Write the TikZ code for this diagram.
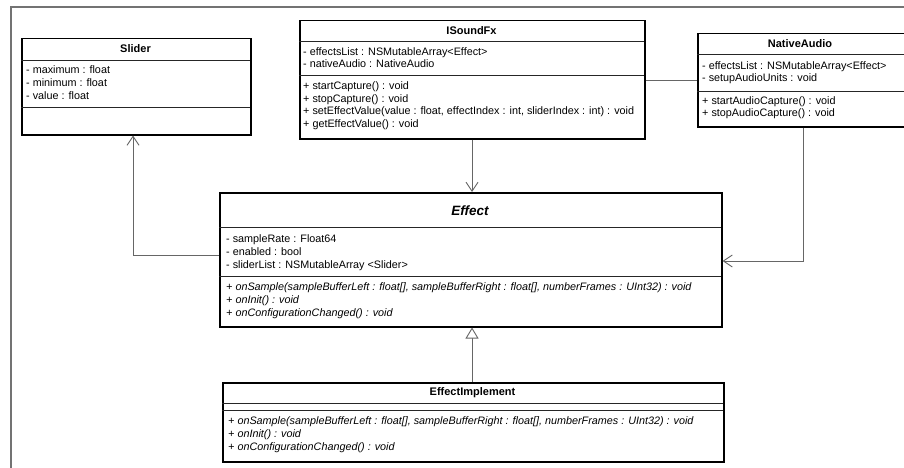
\documentclass[tikz,border=0pt]{standalone}
\usepackage{fontspec}
\setmainfont{Liberation Sans}
\usetikzlibrary{arrows.meta}

\tikzset{
  classbox/.style={draw=black, line width=1.5pt, fill=white, inner sep=0pt, anchor=north west},
  sepline/.style={draw=black!85, line width=0.8pt},
  member/.style={anchor=west, inner sep=0pt, text height=8pt, text depth=2.5pt,
    font=\fontsize{10.8}{12}\selectfont},
  opmember/.style={member, font=\fontsize{10.8}{12}\selectfont\itshape},
  title/.style={inner sep=0pt, font=\fontsize{11}{12}\selectfont\bfseries},
  conn/.style={draw=black!60, line width=0.9pt},
  assoc/.style={conn, -{Straight Barb[length=9pt,width=12pt,line width=0.9pt]}},
  generalize/.style={conn, -{Triangle[open,length=11pt,width=13pt,line width=0.9pt,fill=white]}},
  frameline/.style={draw=black!55, line width=1.3pt}
}

\begin{document}
\begin{tikzpicture}[x=1pt, y=-1pt]
\useasboundingbox (0,0) rectangle (904,468);
\fill[white] (0,0) rectangle (904,468);

% outer diagram frame
\draw[frameline] (11,470) -- (11,7) -- (906,7);

% ---------- Slider ----------
\node[classbox, minimum width=229pt, minimum height=96pt] (slider) at (21,38) {};
\draw[sepline] (21,60) -- (250,60);
\draw[sepline] (21,107) -- (250,107);
\node[title] (sliderT) at (135.5,49) {Slider};
\node[member] (sl1) at (26,71) {- maximum : float};
\node[member] (sl2) at (26,84) {- minimum : float};
\node[member] (sl3) at (26,97) {- value : float};

% ---------- ISoundFx ----------
\node[classbox, minimum width=345pt, minimum height=118pt] (isound) at (299,20) {};
\draw[sepline] (299,41) -- (644,41);
\draw[sepline] (299,75) -- (644,75);
\node[title] (isoundT) at (471.5,31) {ISoundFx};
\node[member] (is1) at (303,53) {- effectsList : NSMutableArray<Effect>};
\node[member] (is2) at (303,65) {- nativeAudio : NativeAudio};
\node[member] (is3) at (303,87) {+ startCapture() : void};
\node[member] (is4) at (303,100) {+ stopCapture() : void};
\node[member] (is5) at (303,112) {+ setEffectValue(value : float, effectIndex : int, sliderIndex : int) : void};
\node[member] (is6) at (303,125) {+ getEffectValue() : void};

% ---------- NativeAudio ----------
\node[classbox, minimum width=209pt, minimum height=93pt] (native) at (697,33) {};
\draw[sepline] (697,54) -- (906,54);
\draw[sepline] (697,91) -- (906,91);
\node[title] (nativeT) at (800,44) {NativeAudio};
\node[member] (na1) at (702,67) {- effectsList : NSMutableArray<Effect>};
\node[member] (na2) at (702,79) {- setupAudioUnits : void};
\node[member] (na3) at (702,102) {+ startAudioCapture() : void};
\node[member] (na4) at (702,114) {+ stopAudioCapture() : void};

% ---------- Effect ----------
\node[classbox, minimum width=502pt, minimum height=134pt] (effect) at (219,192) {};
\draw[sepline] (219,227) -- (721,227);
\draw[sepline] (219,276) -- (721,276);
\node[inner sep=0pt, font=\fontsize{13.5}{15}\selectfont\bfseries\itshape] (effectT) at (470,211) {Effect};
\node[member] (ef1) at (226,240) {- sampleRate : Float64};
\node[member] (ef2) at (226,253) {- enabled : bool};
\node[member] (ef3) at (226,266) {- sliderList : NSMutableArray <Slider>};
\node[opmember] (ef4) at (226,288) {+ onSample(sampleBufferLeft : float[], sampleBufferRight : float[], numberFrames : UInt32) : void};
\node[opmember] (ef5) at (226,301) {+ onInit() : void};
\node[opmember] (ef6) at (226,314) {+ onConfigurationChanged() : void};

% ---------- EffectImplement ----------
\node[classbox, minimum width=501pt, minimum height=79pt] (impl) at (222,382) {};
\draw[sepline] (222,403) -- (723,403);
\draw[sepline] (222,410) -- (723,410);
\node[title] (implT) at (472.5,393) {EffectImplement};
\node[opmember] (im1) at (228,422) {+ onSample(sampleBufferLeft : float[], sampleBufferRight : float[], numberFrames : UInt32) : void};
\node[opmember] (im2) at (228,435) {+ onInit() : void};
\node[opmember] (im3) at (228,448) {+ onConfigurationChanged() : void};

% ---------- connectors ----------
\coordinate (bendS) at (133,255);
\draw[assoc] (effect.west |- bendS) -- (bendS) -- (slider.south -| bendS);

\coordinate (downI) at (472,0);
\draw[assoc] (isound.south -| downI) -- (effect.north -| downI);

\coordinate (linkIN) at (0,80);
\draw[conn] (isound.east |- linkIN) -- (native.west |- linkIN);

\coordinate (bendN) at (803,261);
\draw[assoc] (native.south -| bendN) -- (bendN) -- (effect.east |- bendN);

\draw[generalize] (impl.north -| downI) -- (effect.south -| downI);
\end{tikzpicture}
\end{document}
